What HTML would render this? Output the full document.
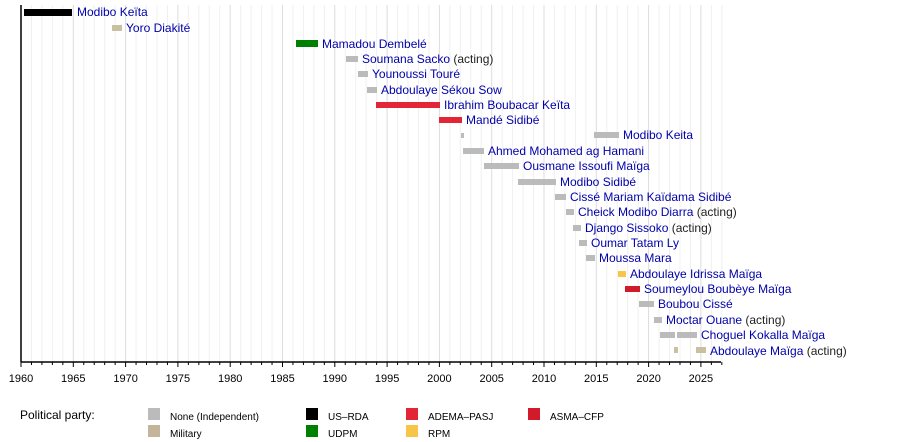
<!DOCTYPE html>
<html><head><meta charset="utf-8"><style>body{margin:0;background:#fff}svg{display:block}text{font-family:"Liberation Sans",sans-serif}</style></head><body>
<svg width="900" height="442" xmlns="http://www.w3.org/2000/svg">
<g id="grid"></g>
<g font-size="12" fill="#0000aa" id="bars">
<rect x="24" y="9" width="48" height="7" fill="#000"/><text x="77" y="16">Modibo Keïta</text>
<rect x="112" y="25" width="10" height="6" fill="#c8c0a0"/><text x="126" y="32">Yoro Diakité</text>
<rect x="296" y="40" width="22" height="7" fill="#008000"/><text x="322" y="48">Mamadou Dembelé</text>
<rect x="346" y="56" width="12" height="6" fill="#bbb"/><text x="362" y="63">Soumana Sacko <tspan fill="#222">(acting)</tspan></text>
<rect x="358" y="71" width="10" height="6" fill="#bbb"/><text x="372" y="78">Younoussi Touré</text>
<rect x="367" y="87" width="10" height="6" fill="#bbb"/><text x="381" y="94">Abdoulaye Sékou Sow</text>
<rect x="376" y="102" width="64" height="6" fill="#e32636"/><text x="444" y="109">Ibrahim Boubacar Keïta</text>
<rect x="439" y="117" width="23" height="6" fill="#e32636"/><text x="466" y="124">Mandé Sidibé</text>
<rect x="461" y="133" width="3" height="5" fill="#bbb"/><rect x="594" y="132" width="25" height="6" fill="#bbb"/><text x="623" y="139">Modibo Keita</text>
<rect x="463" y="148" width="21" height="6" fill="#bbb"/><text x="488" y="155">Ahmed Mohamed ag Hamani</text>
<rect x="484" y="163" width="35" height="6" fill="#bbb"/><text x="523" y="170">Ousmane Issoufi Maïga</text>
<rect x="518" y="179" width="38" height="6" fill="#bbb"/><text x="560" y="186">Modibo Sidibé</text>
<rect x="555" y="194" width="11" height="6" fill="#bbb"/><text x="570" y="201">Cissé Mariam Kaïdama Sidibé</text>
<rect x="566" y="209" width="8" height="6" fill="#bbb"/><text x="578" y="216">Cheick Modibo Diarra <tspan fill="#222">(acting)</tspan></text>
<rect x="573" y="225" width="8" height="6" fill="#bbb"/><text x="585" y="232">Django Sissoko <tspan fill="#222">(acting)</tspan></text>
<rect x="579" y="240" width="8" height="6" fill="#bbb"/><text x="591" y="247">Oumar Tatam Ly</text>
<rect x="586" y="255" width="9" height="6" fill="#bbb"/><text x="599" y="262">Moussa Mara</text>
<rect x="618" y="271" width="8" height="6" fill="#f8c548"/><text x="630" y="278">Abdoulaye Idrissa Maïga</text>
<rect x="625" y="286" width="15" height="6" fill="#d11a2a"/><text x="644" y="293">Soumeylou Boubèye Maïga</text>
<rect x="639" y="301" width="15" height="6" fill="#bbb"/><text x="658" y="308">Boubou Cissé</text>
<rect x="654" y="317" width="8" height="6" fill="#bbb"/><text x="666" y="324">Moctar Ouane <tspan fill="#222">(acting)</tspan></text>
<rect x="660" y="332" width="15" height="6" fill="#bbb"/><rect x="677" y="332" width="20" height="6" fill="#bbb"/><text x="701" y="339">Choguel Kokalla Maïga</text>
<rect x="674" y="347" width="4" height="6" fill="#c8c0a0"/><rect x="696" y="347" width="10" height="6" fill="#c8c0a0"/><text x="710" y="355">Abdoulaye Maïga <tspan fill="#222">(acting)</tspan></text>
</g>
<line x1="21" y1="5" x2="21" y2="362" stroke="#000" stroke-width="1.5"/>
<line x1="21" y1="362" x2="721" y2="362" stroke="#000" stroke-width="1.5"/>
<g id="ticks" font-size="11" fill="#000" text-anchor="middle"></g>
<g font-size="12" fill="#000"><text x="20" y="419">Political party:</text></g>
<g font-size="10" fill="#000">
<rect x="148" y="408" width="12" height="12" fill="#bbb"/><text x="170" y="420">None (Independent)</text>
<rect x="148" y="425" width="12" height="12" fill="#c3b49a"/><text x="170" y="437">Military</text>
<rect x="306" y="408" width="12" height="12" fill="#000"/><text x="328" y="420">US–RDA</text>
<rect x="306" y="425" width="12" height="12" fill="#008000"/><text x="328" y="437">UDPM</text>
<rect x="406" y="408" width="12" height="12" fill="#e32636"/><text x="428" y="420">ADEMA–PASJ</text>
<rect x="406" y="425" width="12" height="12" fill="#f8c548"/><text x="428" y="437">RPM</text>
<rect x="528" y="408" width="12" height="12" fill="#d11a2a"/><text x="550" y="420">ASMA–CFP</text>
</g>
<script>
var g=document.getElementById('grid'),t=document.getElementById('ticks'),ns='http://www.w3.org/2000/svg';
for(var y=1961;y<=2027;y++){var x=21+(y-1960)*10.46;var l=document.createElementNS(ns,'line');l.setAttribute('x1',x);l.setAttribute('x2',x);l.setAttribute('y1',5);l.setAttribute('y2',362);l.setAttribute('stroke',y%5==0?'#ddd':'#f0f0f0');g.appendChild(l);}
for(var y=1960;y<=2027;y++){var x=21+(y-1960)*10.46;var l=document.createElementNS(ns,'line');l.setAttribute('x1',x);l.setAttribute('x2',x);l.setAttribute('y1',362);l.setAttribute('y2',y%5==0?367:365);l.setAttribute('stroke','#000');t.appendChild(l);
if(y%5==0){var s=document.createElementNS(ns,'text');s.setAttribute('x',x);s.setAttribute('y',382);s.textContent=y;t.appendChild(s);}}
</script>
</svg>
</body></html>
